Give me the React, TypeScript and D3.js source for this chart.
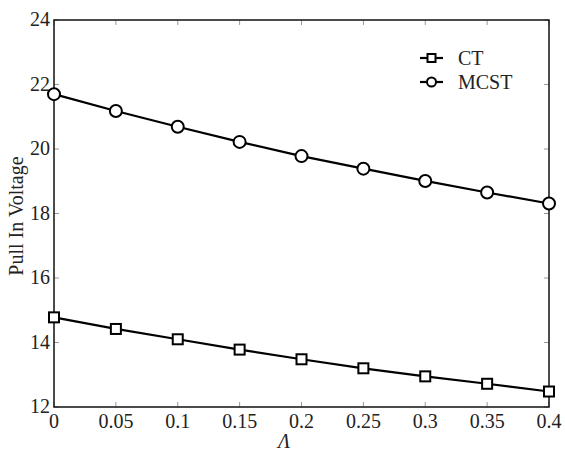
import React from 'react';
import { scaleLinear, line } from 'd3';

const width = 565;
const height = 452;
const margin = { top: 20, right: 16, bottom: 45, left: 54 };

const lambdaValues = [0, 0.05, 0.1, 0.15, 0.2, 0.25, 0.3, 0.35, 0.4];
const ctValues = [14.78, 14.42, 14.1, 13.78, 13.48, 13.2, 12.95, 12.72, 12.48];
const mcstValues = [21.7, 21.18, 20.69, 20.22, 19.78, 19.39, 19.01, 18.65, 18.31];
const xTicks = [0, 0.05, 0.1, 0.15, 0.2, 0.25, 0.3, 0.35, 0.4];
const yTicks = [12, 14, 16, 18, 20, 22, 24];

const font = 'Liberation Serif, Times New Roman, serif';

export default function App() {
  const x = scaleLinear().domain([0, 0.4]).range([margin.left, width - margin.right]);
  const y = scaleLinear().domain([12, 24]).range([height - margin.bottom, margin.top]);
  const x0 = margin.left;
  const x1 = width - margin.right;
  const y0 = height - margin.bottom;
  const y1 = margin.top;

  const path = line<number>()
    .x((_, i) => x(lambdaValues[i]))
    .y((d) => y(d));

  const tickLen = 5;

  return (
    <svg width={width} height={height} style={{ position: 'absolute', left: 0, top: 0, background: '#fff' }}>
      {/* ticks, mirrored on top and right */}
      {xTicks.map((t) => (
        <g key={'x' + t}>
          <line x1={x(t)} x2={x(t)} y1={y0} y2={y0 - tickLen} stroke="#999" />
          <line x1={x(t)} x2={x(t)} y1={y1} y2={y1 + tickLen} stroke="#999" />
          <text x={x(t)} y={y0 + 21} textAnchor="middle" fontFamily={font} fontSize={20} fill="#222">
            {t}
          </text>
        </g>
      ))}
      {yTicks.map((t) => (
        <g key={'y' + t}>
          <line x1={x0} x2={x0 + tickLen} y1={y(t)} y2={y(t)} stroke="#999" />
          <line x1={x1} x2={x1 - tickLen} y1={y(t)} y2={y(t)} stroke="#999" />
          <text x={x0 - 4} y={y(t) + 6} textAnchor="end" fontFamily={font} fontSize={20} fill="#222">
            {t}
          </text>
        </g>
      ))}
      <rect x={x0} y={y1} width={x1 - x0} height={y0 - y1} fill="none" stroke="#111" strokeWidth={1.5} />

      {/* series */}
      <path d={path(ctValues) ?? ''} fill="none" stroke="#000" strokeWidth={2.2} />
      <path d={path(mcstValues) ?? ''} fill="none" stroke="#000" strokeWidth={2.2} />
      {ctValues.map((v, i) => (
        <rect key={'c' + i} x={x(lambdaValues[i]) - 5} y={y(v) - 5} width={10} height={10} fill="#fff" stroke="#000" strokeWidth={2} />
      ))}
      {mcstValues.map((v, i) => (
        <circle key={'m' + i} cx={x(lambdaValues[i])} cy={y(v)} r={6} fill="#fff" stroke="#000" strokeWidth={2} />
      ))}

      {/* legend */}
      <g>
        <line x1={420} x2={443} y1={58} y2={58} stroke="#000" strokeWidth={2.2} />
        <rect x={427.5} y={54} width={8} height={8} fill="#fff" stroke="#000" strokeWidth={2} />
        <text x={458} y={65} fontFamily={font} fontSize={20} fill="#222">CT</text>
        <line x1={420} x2={443} y1={82} y2={82} stroke="#000" strokeWidth={2.2} />
        <circle cx={431.5} cy={82} r={4.5} fill="#fff" stroke="#000" strokeWidth={2} />
        <text x={458} y={89} fontFamily={font} fontSize={20} fill="#222">MCST</text>
      </g>

      {/* axis labels */}
      <text x={284} y={448} textAnchor="middle" fontFamily={font} fontSize={20} fontStyle="italic" fill="#222">
        Λ
      </text>
      <text
        transform={`translate(23, 216) rotate(-90)`}
        textAnchor="middle"
        fontFamily={font}
        fontSize={20}
        fill="#222"
      >
        Pull In Voltage
      </text>
    </svg>
  );
}
